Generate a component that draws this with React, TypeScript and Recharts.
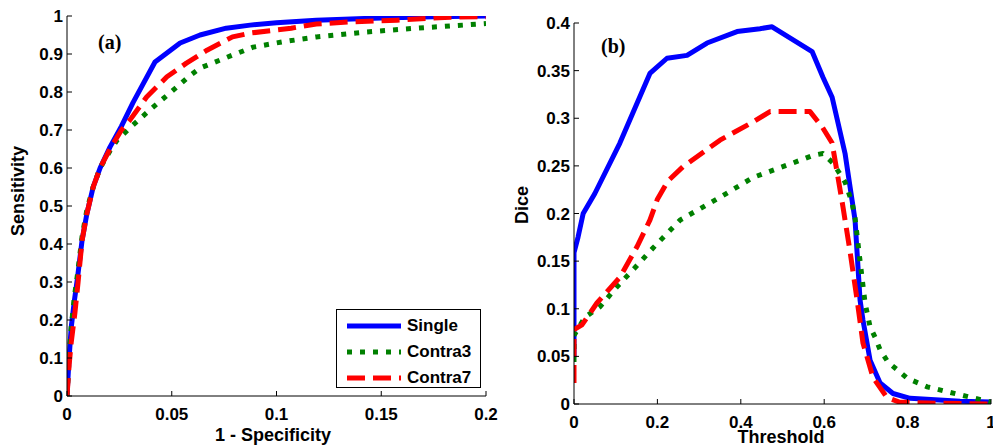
import { Line, LineChart, XAxis, YAxis } from "recharts";

// panel (a): ROC curves
const rocTicksX = [0, 0.05, 0.1, 0.15, 0.2];
const rocTicksY = [0, 0.1, 0.2, 0.3, 0.4, 0.5, 0.6, 0.7, 0.8, 0.9, 1];

const singleFpr = [0, 0.001, 0.002, 0.0035, 0.005, 0.0072, 0.0095, 0.0125, 0.0158, 0.0205, 0.026, 0.0315, 0.042, 0.054, 0.0635, 0.076, 0.0874, 0.1, 0.119, 0.15, 0.175, 0.2];
const singleTpr = [0, 0.1, 0.18, 0.25, 0.31, 0.41, 0.48, 0.55, 0.6, 0.655, 0.71, 0.772, 0.879, 0.929, 0.95, 0.968, 0.976, 0.982, 0.989, 0.995, 0.998, 1.0];

const contra3Fpr = [0, 0.001, 0.002, 0.0035, 0.005, 0.0072, 0.0095, 0.0125, 0.0158, 0.0205, 0.024, 0.0315, 0.0396, 0.049, 0.058, 0.0635, 0.079, 0.0888, 0.103, 0.119, 0.143, 0.167, 0.189, 0.2];
const contra3Tpr = [0, 0.1, 0.18, 0.26, 0.32, 0.42, 0.49, 0.55, 0.6, 0.645, 0.674, 0.713, 0.753, 0.797, 0.84, 0.863, 0.897, 0.918, 0.932, 0.945, 0.958, 0.968, 0.976, 0.98];

const contra7Fpr = [0, 0.001, 0.002, 0.0038, 0.0053, 0.0072, 0.0095, 0.0125, 0.0158, 0.0205, 0.026, 0.03, 0.038, 0.0477, 0.057, 0.0668, 0.079, 0.0874, 0.107, 0.119, 0.134, 0.1575, 0.183, 0.2];
const contra7Tpr = [0, 0.08, 0.14, 0.22, 0.3, 0.41, 0.48, 0.55, 0.6, 0.65, 0.7, 0.726, 0.787, 0.84, 0.876, 0.91, 0.945, 0.955, 0.968, 0.979, 0.984, 0.989, 0.997, 0.998];

// panel (b): Dice vs threshold
const diceTicksX = [0, 0.2, 0.4, 0.6, 0.8, 1];
const diceTicksY = [0, 0.05, 0.1, 0.15, 0.2, 0.25, 0.3, 0.35, 0.4];

const singleThr = [0, 0, 0.0096, 0.022, 0.05, 0.11, 0.182, 0.223, 0.271, 0.319, 0.391, 0.446, 0.475, 0.571, 0.597, 0.619, 0.65, 0.662, 0.674, 0.686, 0.693, 0.71, 0.734, 0.765, 0.806, 0.926, 1];
const singleDice = [0.049, 0.159, 0.175, 0.2, 0.221, 0.274, 0.347, 0.363, 0.366, 0.379, 0.391, 0.394, 0.396, 0.37, 0.343, 0.322, 0.263, 0.228, 0.193, 0.109, 0.088, 0.046, 0.022, 0.011, 0.006, 0.003, 0.002];

const contra3Thr = [0, 0, 0.026, 0.062, 0.103, 0.146, 0.19, 0.254, 0.35, 0.43, 0.525, 0.573, 0.597, 0.621, 0.65, 0.667, 0.674, 0.686, 0.698, 0.71, 0.722, 0.734, 0.753, 0.775, 0.799, 0.847, 0.894, 0.942, 1];
const contra3Dice = [0.044, 0.072, 0.091, 0.102, 0.123, 0.143, 0.164, 0.193, 0.217, 0.238, 0.253, 0.261, 0.263, 0.253, 0.233, 0.211, 0.195, 0.15, 0.106, 0.081, 0.07, 0.057, 0.044, 0.036, 0.027, 0.018, 0.013, 0.008, 0.002];

const contra7Thr = [0, 0, 0.019, 0.055, 0.11, 0.151, 0.182, 0.2, 0.225, 0.261, 0.35, 0.429, 0.47, 0.566, 0.595, 0.619, 0.633, 0.645, 0.662, 0.679, 0.693, 0.717, 0.75, 0.78, 0.85, 1];
const contra7Dice = [0.022, 0.078, 0.083, 0.106, 0.133, 0.165, 0.193, 0.215, 0.234, 0.249, 0.277, 0.296, 0.307, 0.307, 0.291, 0.274, 0.238, 0.207, 0.16, 0.109, 0.064, 0.028, 0.007, 0.002, 0.001, 0];

const seriesNames = ["Single", "Contra3", "Contra7"];

const BLUE = "#0000ff";
const GREEN = "#008000";
const RED = "#ff0000";

const zip = (xs: number[], ys: number[]) => xs.map((x, i) => ({ x, y: ys[i] }));

const FONT = "'Liberation Sans', Arial, sans-serif";
const tickStyle = { fill: "#000", fontSize: 17, fontWeight: "bold", fontFamily: FONT };
const black = { stroke: "#000", strokeWidth: 1 };

const styles = [
  { stroke: BLUE, dash: undefined },
  { stroke: GREEN, dash: "5 8" },
  { stroke: RED, dash: "18 8" },
];

function Panel({
  width,
  margin,
  xDomain,
  yDomain,
  xTicks,
  yTicks,
  yWidth,
  series,
}: {
  width: number;
  margin: { top: number; right: number; bottom: number; left: number };
  xDomain: [number, number];
  yDomain: [number, number];
  xTicks: number[];
  yTicks: number[];
  yWidth: number;
  series: { x: number; y: number }[][];
}) {
  return (
    <LineChart width={width} height={445} margin={margin}>
      <XAxis
        dataKey="x"
        type="number"
        domain={xDomain}
        ticks={xTicks}
        allowDataOverflow
        height={30}
        tickSize={-5}
        tickMargin={17}
        tick={tickStyle}
        axisLine={black}
        tickLine={black}
        interval={0}
      />
      <XAxis
        xAxisId="top"
        orientation="top"
        dataKey="x"
        type="number"
        domain={xDomain}
        ticks={xTicks}
        height={0}
        tickSize={-5}
        tick={false}
        axisLine={black}
        tickLine={black}
        interval={0}
      />
      <YAxis
        type="number"
        domain={yDomain}
        ticks={yTicks}
        allowDataOverflow
        width={yWidth}
        tickSize={-5}
        tickMargin={9}
        tick={tickStyle}
        axisLine={black}
        tickLine={black}
        interval={0}
      />
      <YAxis
        yAxisId="right"
        orientation="right"
        type="number"
        domain={yDomain}
        ticks={yTicks}
        width={0}
        tickSize={-5}
        tick={false}
        axisLine={black}
        tickLine={black}
        interval={0}
      />
      {series.map((d, i) => (
        <Line
          key={seriesNames[i]}
          data={d}
          dataKey="y"
          name={seriesNames[i]}
          type="linear"
          stroke={styles[i].stroke}
          strokeWidth={5}
          strokeDasharray={styles[i].dash}
          strokeLinejoin="round"
          dot={false}
          activeDot={false}
          isAnimationActive={false}
        />
      ))}
    </LineChart>
  );
}

const label = (text: string, left: number, top: number, rotate = false) => (
  <div
    style={{
      position: "absolute",
      left,
      top,
      transform: `translate(-50%, -50%)${rotate ? " rotate(-90deg)" : ""}`,
      fontFamily: FONT,
      fontWeight: "bold",
      fontSize: 18,
      whiteSpace: "nowrap",
      lineHeight: 1,
    }}
  >
    {text}
  </div>
);

export default function App() {
  return (
    <div style={{ position: "absolute", left: 0, top: 0, width: 993, height: 445, background: "#fff", overflow: "hidden" }}>
      <div style={{ position: "absolute", left: 0, top: 0 }}>
        <Panel
          width={500}
          margin={{ top: 16, right: 14, bottom: 19, left: 0 }}
          xDomain={[0, 0.2]}
          yDomain={[0, 1]}
          xTicks={rocTicksX}
          yTicks={rocTicksY}
          yWidth={67}
          series={[zip(singleFpr, singleTpr), zip(contra3Fpr, contra3Tpr), zip(contra7Fpr, contra7Tpr)]}
        />
      </div>
      <div style={{ position: "absolute", left: 500, top: 0 }}>
        <Panel
          width={493}
          margin={{ top: 23, right: 2, bottom: 11, left: 0 }}
          xDomain={[0, 1]}
          yDomain={[0, 0.4]}
          xTicks={diceTicksX}
          yTicks={diceTicksY}
          yWidth={74}
          series={[zip(singleThr, singleDice), zip(contra3Thr, contra3Dice), zip(contra7Thr, contra7Dice)]}
        />
      </div>

      {label("Sensitivity", 18, 191, true)}
      {label("1 - Specificity", 273, 435)}
      {label("Dice", 522, 205, true)}
      {label("Threshold", 781, 437)}

      <div style={{ position: "absolute", left: 98, top: 31, fontFamily: "'Liberation Serif', 'Times New Roman', serif", fontWeight: "bold", fontSize: 20 }}>
        (a)
      </div>
      <div style={{ position: "absolute", left: 601, top: 35, fontFamily: "'Liberation Serif', 'Times New Roman', serif", fontWeight: "bold", fontSize: 20 }}>
        (b)
      </div>

      <div
        style={{
          position: "absolute",
          left: 336,
          top: 309,
          width: 143,
          height: 77,
          border: "1px solid #000",
          background: "#fff",
          fontFamily: FONT,
          fontWeight: "bold",
          fontSize: 17,
        }}
      >
        {seriesNames.map((n, i) => (
          <div key={n} style={{ position: "absolute", left: 10, top: 5 + i * 26, height: 22, display: "flex", alignItems: "center" }}>
            <svg width={54} height={10} style={{ marginRight: 6 }}>
              <line x1={0} y1={5} x2={54} y2={5} stroke={styles[i].stroke} strokeWidth={5} strokeDasharray={styles[i].dash} />
            </svg>
            <span>{n}</span>
          </div>
        ))}
      </div>
    </div>
  );
}
